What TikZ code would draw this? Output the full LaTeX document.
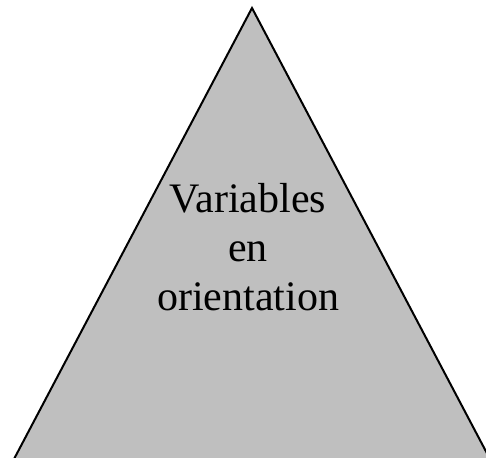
\documentclass[tikz,border=0pt]{standalone}
\usepackage{fontspec}
\setmainfont{Liberation Serif}
\begin{document}
\begin{tikzpicture}[
    x=1pt, y=-1pt,
    pyramid/.style={draw=black, fill=black!25, line width=2pt, line join=miter},
    label/.style={font=\fontsize{42}{49}\selectfont, align=center, inner sep=0pt}
]

% --- Frame ---
\useasboundingbox (0,0) rectangle (486,457);
\clip (0,0) rectangle (486,457);

% --- Triangle ---
\draw[pyramid] (252,8) -- (500,478) -- (4,478) -- cycle;

% --- Text ---
\node[label, anchor=base] (title) at (248,310) {Variables\\en\\orientation};

\end{tikzpicture}
\end{document}
